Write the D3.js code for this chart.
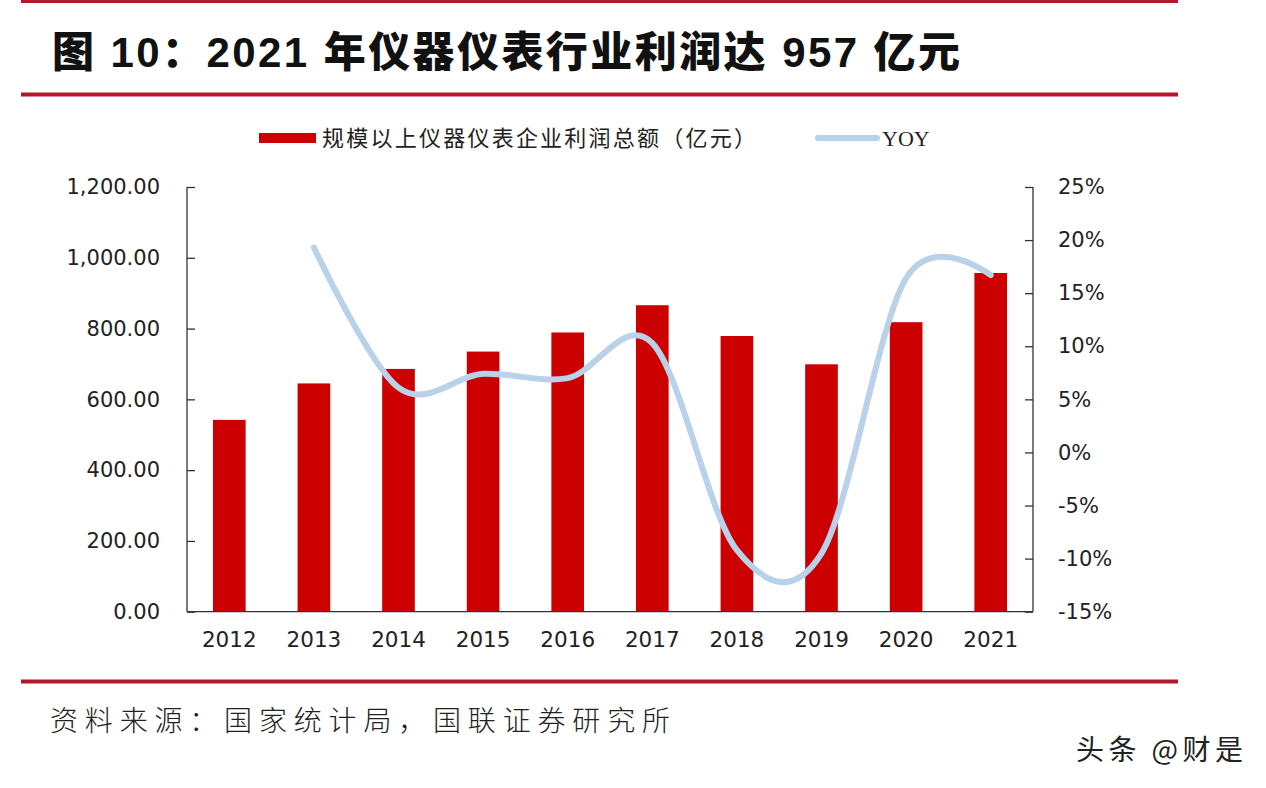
<!DOCTYPE html>
<html><head><meta charset="utf-8">
<script src="https://cdn.jsdelivr.net/npm/d3@7/dist/d3.min.js"></script>
<style>
html,body{margin:0;padding:0;background:#fff;}
svg{display:block;}
</style></head>
<body>
<svg id="chart" width="1266" height="788"></svg>
<script>
const years = ["2012","2013","2014","2015","2016","2017","2018","2019","2020","2021"];
const profit = [542, 645, 686, 735, 789, 866, 779, 699, 818, 957];
const yoyYears = ["2013","2014","2015","2016","2017","2018","2019","2020","2021"];
const yoy = [19.3, 6.1, 7.4, 7.0, 10.3, -9.2, -9.5, 16.4, 16.7];
const leftTicks = [0, 200, 400, 600, 800, 1000, 1200];
const rightTicks = [-15, -10, -5, 0, 5, 10, 15, 20, 25];
const titleText = "图 10：2021 年仪器仪表行业利润达 957 亿元";
const legendBar = "规模以上仪器仪表企业利润总额（亿元）";
const legendLine = "YOY";
const sourceText = "资料来源：国家统计局，国联证券研究所";
const watermark = "头条 @财是";

const svg = d3.select("#chart");
const L = 187, R = 1033, T = 187, B = 611.7;
const ruleColor = "#b3172d";

// rules
[[1.5,3],[94.5,4],[681.5,4]].forEach(([y,w])=>{
  svg.append("line").attr("x1",21).attr("x2",1178).attr("y1",y).attr("y2",y)
    .attr("stroke",ruleColor).attr("stroke-width",w);
});

// title
svg.append("text").attr("x",52).attr("y",67)
  .attr("font-family","'Liberation Sans','Noto Sans CJK SC',sans-serif")
  .attr("font-weight","900").attr("font-size",42).attr("fill","#111")
  .attr("textLength",908).attr("lengthAdjust","spacing")
  .text(titleText);

const x = d3.scaleBand().domain(years).range([L,R]).paddingInner(0.614).paddingOuter(0.307);
const y = d3.scaleLinear().domain([0,1200]).range([B,T]);
const y2 = d3.scaleLinear().domain([-15,25]).range([B,T]);

// bars
svg.append("g").selectAll("rect").data(years).join("rect")
  .attr("x",d=>x(d)).attr("width",x.bandwidth())
  .attr("y",(d,i)=>y(profit[i])).attr("height",(d,i)=>B-y(profit[i]))
  .attr("fill","#cc0000");

// line
const line = d3.line().x(d=>x(d[0])+x.bandwidth()/2).y(d=>y2(d[1])).curve(d3.curveCardinal.tension(0));
svg.append("path").datum(yoyYears.map((d,i)=>[d,yoy[i]]))
  .attr("d",line).attr("fill","none").attr("stroke","#b9d1e9")
  .attr("stroke-width",6).attr("stroke-linecap","round");

// axes
const axColor = "#333";
const gL = svg.append("g").attr("transform",`translate(${L},0)`)
  .call(d3.axisLeft(y).tickValues(leftTicks).tickSize(-8).tickPadding(27).tickFormat(d3.format(",.2f")));
const gR = svg.append("g").attr("transform",`translate(${R},0)`)
  .call(d3.axisRight(y2).tickValues(rightTicks).tickSize(-8).tickPadding(25).tickFormat(d=>d+"%"));
const gB = svg.append("g").attr("transform",`translate(0,${B})`)
  .call(d3.axisBottom(x).tickSize(0).tickPadding(20));
[gL,gR,gB].forEach(g=>{
  g.select(".domain").attr("stroke",axColor).attr("stroke-width",1.3);
  g.selectAll(".tick line").attr("stroke",axColor).attr("stroke-width",1.3);
  g.selectAll(".tick text").attr("fill","#222").attr("font-family","'DejaVu Sans',sans-serif").attr("font-size",21);
});
gL.select(".domain").attr("d",`M0,${T}V${B}`);
gR.select(".domain").attr("d",`M0,${T}V${B}`);
gB.select(".domain").attr("d",`M${L},0H${R}`);
gB.selectAll(".tick text").attr("font-size",21.5);

// legend
svg.append("rect").attr("x",259).attr("y",133).attr("width",57).attr("height",10).attr("fill","#cc0000");
svg.append("text").attr("x",322).attr("y",146).attr("font-family","'Noto Sans CJK SC',sans-serif")
  .attr("font-size",22).attr("fill","#222").attr("textLength",434).attr("lengthAdjust","spacing").text(legendBar);
svg.append("line").attr("x1",818).attr("x2",877).attr("y1",138).attr("y2",138)
  .attr("stroke","#b9d1e9").attr("stroke-width",6).attr("stroke-linecap","round");
svg.append("text").attr("x",882).attr("y",146).attr("font-family","'Liberation Serif',serif")
  .attr("font-size",22).attr("fill","#222").text(legendLine);

// source
svg.append("text").attr("x",50).attr("y",731).attr("font-family","'Noto Sans CJK SC',sans-serif")
  .attr("font-weight","300").attr("font-size",28).attr("fill","#222")
  .attr("textLength",620).attr("lengthAdjust","spacing").text(sourceText);

// watermark
svg.append("text").attr("x",1076).attr("y",760).attr("font-family","'Noto Sans CJK SC',sans-serif")
  .attr("font-size",28).attr("fill","#222").attr("textLength",167).attr("lengthAdjust","spacing")
  .style("paint-order","stroke").attr("stroke","#fff").attr("stroke-width",1).text(watermark);
</script>
</body></html>
